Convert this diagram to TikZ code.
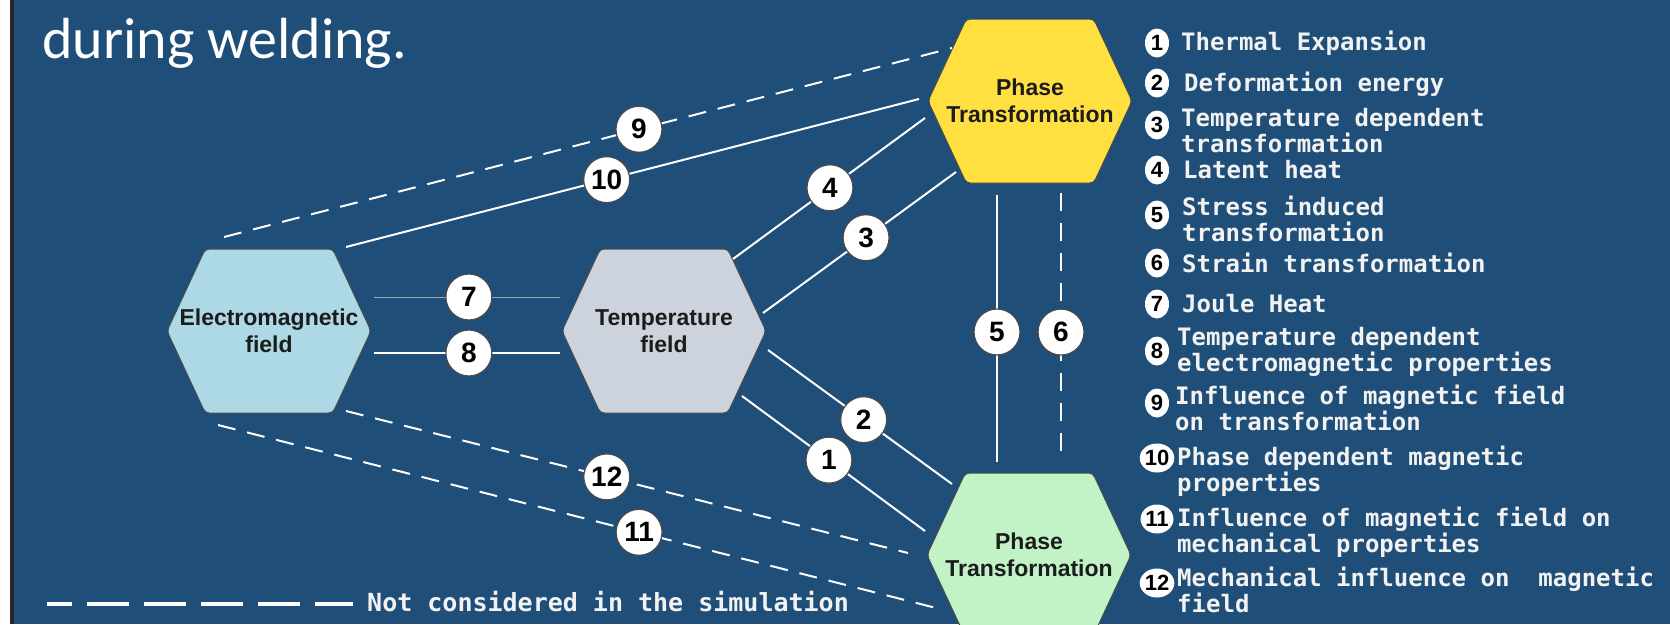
\documentclass[tikz,border=0pt]{standalone}
\usepackage{fontspec}
\setmainfont{Carlito}
\newfontfamily\hexsans{Liberation Sans}
\newfontfamily\keymono{DejaVu Sans Mono}
\definecolor{Slide}{HTML}{1F4E79}
\definecolor{SlideEdge}{HTML}{262626}
\definecolor{FieldBlue}{HTML}{ADD8E6}
\definecolor{FieldGrey}{HTML}{CDD3DC}
\definecolor{PhaseGold}{HTML}{FFE040}
\definecolor{PhaseMint}{HTML}{C1F3C7}
\definecolor{HexRim}{HTML}{4A4A4A}
\definecolor{HexInk}{HTML}{1C1C1C}
\definecolor{JouleGrey}{HTML}{9AA6B2}
\definecolor{KeyInk}{HTML}{F2F2F2}
\usetikzlibrary{shapes.symbols, shapes.geometric, positioning}

\begin{document}
\begin{tikzpicture}[x=1pt, y=-1pt,
  hex/.style={signal, signal to=east and west, signal pointer angle=130,
              draw=HexRim, line width=1pt, rounded corners=4pt,
              minimum width=204pt, minimum height=164pt,
              inner xsep=-40pt, inner ysep=0pt,
              align=center, text=HexInk, font=\hexsans\bfseries\fontsize{23}{27}\selectfont},
  num/.style={circle, solid, draw=HexRim, line width=1.2pt, fill=white,
              minimum size=46pt, inner sep=0pt, text=black,
              font=\hexsans\bfseries\fontsize{28}{28}\selectfont},
  keynum/.style={ellipse, fill=white, minimum width=24pt, minimum height=29pt,
              inner sep=0pt, text=black,
              font=\hexsans\bfseries\fontsize{22}{22}\selectfont},
  keytxt/.style={anchor=west, align=left, inner sep=0pt, text=KeyInk,
              font=\keymono\bfseries\fontsize{24}{26}\selectfont},
  link/.style={draw=white, line width=2pt},
  nolink/.style={link, dash pattern=on 18pt off 12pt},
  joule/.style={draw=JouleGrey, line width=1pt}
]
\useasboundingbox (0,0) rectangle (1670,624);
\clip (0,0) rectangle (1670,624);

%% ---- Slide background ----
\fill[white]     (0,0)  rectangle (10,624);
\fill[SlideEdge] (10,0) rectangle (14,624);
\fill[Slide]     (14,0) rectangle (1670,624);
\node[anchor=base west, inner sep=0pt, text=white, font=\fontsize{58}{62}\selectfont]
  (title) at (42,58) {during welding.};

%% ---- Hexagons ----
\node[hex, fill=FieldBlue] (emf)   at ( 269, 331) {Electromagnetic\\field};
\node[hex, fill=FieldGrey] (temp)  at ( 664, 331) {Temperature\\field};
\node[hex, fill=PhaseGold] (phtop) at (1030, 101) {Phase\\Transformation};
\node[hex, fill=PhaseMint] (phbot) at (1029, 555) {Phase\\Transformation};

%% ---- Link ends ----
\coordinate (a1)  at (742,396);  \coordinate (b1)  at (925,531);
\coordinate (a2)  at (768,350);  \coordinate (b2)  at (952,484);
\coordinate (a3)  at (763,313);  \coordinate (b3)  at (956,172);
\coordinate (a4)  at (733,259);  \coordinate (b4)  at (925,118);
\coordinate (a5)  at (997,195);  \coordinate (b5)  at (997,462);
\coordinate (a6)  at (1061,193); \coordinate (b6)  at (1061,462);
\coordinate (a7)  at (374,297);  \coordinate (b7)  at (560,297);
\coordinate (a8)  at (374,353);  \coordinate (b8)  at (560,353);
\coordinate (a9)  at (224,237);  \coordinate (b9)  at (952,48);
\coordinate (a10) at (346,247);  \coordinate (b10) at (919,99);
\coordinate (a11) at (218,425);  \coordinate (b11) at (944,610);
\coordinate (a12) at (346,411);  \coordinate (b12) at (908,553);

%% ---- Links with their numbers ----
\draw[link]   (a1)  -- node[num, pos=0.475] (n1)  {1}  (b1);
\draw[link]   (a2)  -- node[num, pos=0.52]  (n2)  {2}  (b2);
\draw[link]   (a3)  -- node[num, pos=0.534] (n3)  {3}  (b3);
\draw[link]   (a4)  -- node[num, pos=0.505] (n4)  {4}  (b4);
\draw[link]   (a5)  -- node[num, pos=0.513] (n5)  {5}  (b5);
\draw[nolink] (a6)  -- node[num, pos=0.517] (n6)  {6}  (b6);
\draw[joule]  (a7)  -- node[num, pos=0.51]  (n7)  {7}  (b7);
\draw[link]   (a8)  -- node[num, pos=0.51]  (n8)  {8}  (b8);
\draw[nolink] (a9)  -- node[num, pos=0.57]  (n9)  {9}  (b9);
\draw[link]   (a10) -- node[num, pos=0.455] (n10) {10} (b10);
\draw[nolink] (a11) -- node[num, pos=0.58]  (n11) {11} (b11);
\draw[nolink] (a12) -- node[num, pos=0.464] (n12) {12} (b12);

%% ---- Key (right column) ----
\node[keynum] (k1)  at (1157, 43) {1};
\node[keytxt] (t1)  at (1181, 43) {Thermal Expansion};
\node[keynum] (k2)  at (1157, 83) {2};
\node[keytxt] (t2)  at (1184, 84) {Deformation energy};
\node[keynum] (k3)  at (1157,125) {3};
\node[keytxt] (t3)  at (1181,131) {Temperature dependent\\transformation};
\node[keynum] (k4)  at (1157,170) {4};
\node[keytxt] (t4)  at (1183,170) {Latent heat};
\node[keynum] (k5)  at (1157,215) {5};
\node[keytxt] (t5)  at (1182,219) {Stress induced\\transformation};
\node[keynum] (k6)  at (1157,263) {6};
\node[keytxt] (t6)  at (1182,263) {Strain transformation};
\node[keynum] (k7)  at (1157,304) {7};
\node[keytxt] (t7)  at (1182,304) {Joule Heat};
\node[keynum] (k8)  at (1157,351) {8};
\node[keytxt] (t8)  at (1177,352) {Temperature dependent\\electromagnetic properties};
\node[keynum] (k9)  at (1157,403) {9};
\node[keytxt] (t9)  at (1175,408) {Influence of magnetic field\\on transformation};
\node[keynum] (k10) at (1157,458) {10};
\node[keytxt] (t10) at (1177,471) {Phase dependent magnetic\\properties};
\node[keynum] (k11) at (1157,519) {11};
\node[keytxt] (t11) at (1177,532) {Influence of magnetic field on\\mechanical properties};
\node[keynum] (k12) at (1157,583) {12};
\node[keytxt] (t12) at (1177,590) {Mechanical influence on~ magnetic\\field};

%% ---- Not considered (bottom left) ----
\coordinate (lg0) at (47,604);
\coordinate (lg1) at (353,604);
\draw[draw=white, line width=4pt, dash pattern=on 42pt off 15pt, dash phase=17pt] (lg0) -- (lg1);
\node[keytxt, font=\keymono\bfseries\fontsize{25}{27}\selectfont] (notsim) at (367,602)
  {Not considered in the simulation};

\end{tikzpicture}
\end{document}
